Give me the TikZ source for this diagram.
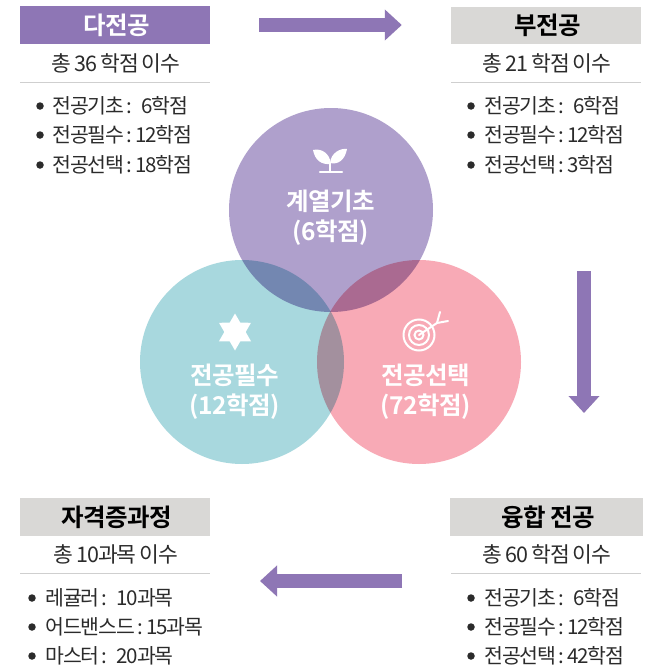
\documentclass[tikz,border=0pt]{standalone}
\usepackage{fontspec}
\setmainfont{Noto Sans CJK KR}
\newfontfamily\boldkor[LetterSpace=-2]{Noto Sans CJK KR Bold}
\newfontfamily\bodykor[LetterSpace=-5,WordSpace=0.8]{Noto Sans CJK KR}
\usetikzlibrary{arrows.meta, shapes.geometric}

\definecolor{flowpurple}{HTML}{8E76B5}
\definecolor{headgrey}{HTML}{D9D8D6}
\definecolor{rulegrey}{HTML}{CFCFCF}
\definecolor{bodyink}{HTML}{2B2B2B}
\definecolor{circpurple}{HTML}{AFA0CC}
\definecolor{circteal}{HTML}{A8D8DE}
\definecolor{circpink}{HTML}{F8AAB6}

\newcommand{\rowsep}{\hspace{2pt}:\hspace{3pt}}
\newcommand{\rowgap}{\hspace{2pt}:\hspace{9pt}}

\tikzset{
    headbox/.style={rectangle, minimum height=38pt, inner sep=0pt, execute at begin node=\hspace*{3.5pt}, font=\boldkor\fontsize{24.5}{24.5}\selectfont},
    subtext/.style={inner sep=0pt, text=bodyink, font=\bodykor\fontsize{21.5}{21.5}\selectfont},
    rowtext/.style={anchor=west, inner sep=0pt, text=bodyink, font=\bodykor\fontsize{20.5}{20.5}\selectfont},
    dotmark/.style={circle, fill=bodyink, inner sep=0pt, minimum size=7.5pt},
    vennlabel/.style={align=center, text=white, inner sep=0pt, font=\boldkor\fontsize{24.5}{30}\selectfont},
    flow/.style={draw=flowpurple, line width=14pt, -{Triangle[width=30pt, length=17pt, flowpurple]}},
}

\begin{document}
\begin{tikzpicture}[x=1pt, y=-1pt]
\useasboundingbox (0,0) rectangle (652,669);
\fill[white] (0,0) rectangle (652,669);

% venn circles
\begin{scope}[blend group=multiply]
    \fill[circpurple] (331,210) circle (102);
    \fill[circteal] (242,362) circle (102);
    \fill[circpink] (419,362) circle (102);
\end{scope}

\node (basic) at (331,218) [vennlabel] {계열기초\\(6학점)};
\node (major) at (235,392) [vennlabel] {전공필수\\(12학점)};
\node (elect) at (426,392) [vennlabel] {전공선택\\(72학점)};

% sprout
\fill[white] (313,150) .. controls (321,148) and (330,153) .. (330.8,164) .. controls (321,165) and (315,160) .. cycle;
\fill[white] (347,149) .. controls (340,148) and (331,153) .. (330,163) .. controls (338,165) and (345,160) .. cycle;
\draw[white, line width=2.4pt] (330,163) -- (330,172);
\draw[white, line width=2.4pt, line cap=round] (320,172) -- (342,172);

% star
\node (starmark) at (235,332) [star, star points=6, star point ratio=1.73, fill=white, inner sep=0pt, minimum size=37pt] {};

% target
\begin{scope}[draw=white, line width=2pt]
    \draw (419,335) circle (15.5);
    \draw (419,335) circle (10);
    \draw (419,335) circle (4.5);
    \draw[line cap=round] (419,335) -- (437,323) -- (440,312);
    \draw[line cap=round] (437,323) -- (448,321);
\end{scope}

% four blocks
\node (dahead) at (115,25) [headbox, minimum width=190pt, fill=flowpurple, text=white] {다전공};
\node (buhead) at (546,25.5) [headbox, minimum width=190pt, minimum height=37pt, fill=headgrey, text=black] {부전공};
\node (yuhead) at (546.5,517) [headbox, minimum width=193pt, fill=headgrey, text=black] {융합 전공};
\node (jahead) at (115,517) [headbox, minimum width=190pt, fill=headgrey, text=black] {자격증과정};

\node (dasub) at (116,63) [subtext] {총 36 학점 이수};
\node (busub) at (547,63) [subtext] {총 21 학점 이수};
\node (yusub) at (547,554) [subtext] {총 60 학점 이수};
\node (jasub) at (116,554) [subtext] {총 10과목 이수};

\draw[rulegrey, line width=1pt] (20,82) -- (210,82);
\draw[rulegrey, line width=1pt] (451,82) -- (641,82);
\draw[rulegrey, line width=1pt] (451,573.5) -- (641,573.5);
\draw[rulegrey, line width=1pt] (20,573.5) -- (210,573.5);

\foreach \n/\y/\t in {1/106/전공기초\rowgap 6학점, 2/135/전공필수\rowsep 12학점, 3/165/전공선택\rowsep 18학점} {
    \node (dadot\n) at (40,\y) [dotmark] {};
    \node (darow\n) at (52,\y) [rowtext] {\t};
}
\foreach \n/\y/\t in {1/106/전공기초\rowgap 6학점, 2/135/전공필수\rowsep 12학점, 3/165/전공선택\rowsep 3학점} {
    \node (budot\n) at (471,\y) [dotmark] {};
    \node (burow\n) at (484,\y) [rowtext] {\t};
}
\foreach \n/\y/\t in {1/598/전공기초\rowgap 6학점, 2/627/전공필수\rowsep 12학점, 3/656/전공선택\rowsep 42학점} {
    \node (yudot\n) at (471,\y) [dotmark] {};
    \node (yurow\n) at (484,\y) [rowtext] {\t};
}
\foreach \n/\y/\t in {1/598/레귤러\rowgap 10과목, 2/627/어드밴스드\rowsep 15과목, 3/656/마스터\rowgap 20과목} {
    \node (jadot\n) at (32,\y) [dotmark] {};
    \node (jarow\n) at (45,\y) [rowtext] {\t};
}

% flow arrows
\coordinate (bufoot) at (584,271);
\coordinate (yutop) at (584,413);
\coordinate (yuleft) at (402,581);
\coordinate (jaright) at (260,581);

\draw[flow, shorten <=49pt, shorten >=49pt] (dahead.east) -- (dahead.east -| buhead.west);
\draw[flow] (bufoot) -- (yutop);
\draw[flow] (yuleft) -- (jaright);
\end{tikzpicture}
\end{document}
